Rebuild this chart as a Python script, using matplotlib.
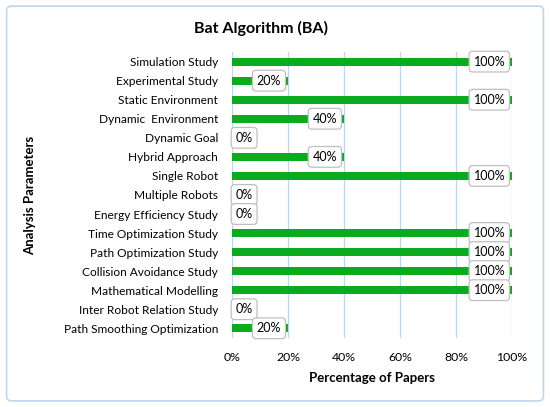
import matplotlib.pyplot as plt
from matplotlib.patches import FancyBboxPatch

# data (top to bottom)
categories = ['Simulation Study', 'Experimental Study', 'Static Environment',
              'Dynamic  Environment', 'Dynamic Goal', 'Hybrid Approach',
              'Single Robot', 'Multiple Robots', 'Energy Efficiency Study',
              'Time Optimization Study', 'Path Optimization Study',
              'Collision Avoidance Study', 'Mathematical Modelling',
              'Inter Robot Relation Study', 'Path Smoothing Optimization']
values = [100, 20, 100, 40, 0, 40, 100, 0, 0, 100, 100, 100, 100, 0, 20]
xticks = [0, 20, 40, 60, 80, 100]

plt.rcParams['font.family'] = ['Lato', 'DejaVu Sans']

fig = plt.figure(figsize=(5.5, 4.07), dpi=100)
ax = fig.add_axes([0.422, 0.17, 0.509, 0.702])

border = FancyBboxPatch((0.012, 0.015), 0.976, 0.97,
                        boxstyle='round,pad=0,rounding_size=0.01',
                        transform=fig.transFigure, fc='white',
                        ec='#BDD7EE', lw=1.2, zorder=-10)
fig.patches.append(border)

ypos = list(range(len(categories)))
ax.barh(ypos, values, height=0.42, color='#0AAB1E', zorder=3)
ax.set_ylim(len(categories) - 0.5, -0.5)
ax.set_xlim(0, 100)
ax.set_yticks(ypos)
ax.set_yticklabels(categories, fontsize=8.6)
ax.set_xticks(xticks)
ax.set_xticklabels([f'{t}%' for t in xticks], fontsize=8.8)
ax.tick_params(length=0, pad=10)
ax.tick_params(axis='y', pad=10)
for s in ax.spines.values():
    s.set_visible(False)
ax.grid(axis='x', color='#BDD7EE', lw=0.9, zorder=0)
ax.set_axisbelow(True)

box = dict(boxstyle='round,pad=0.35,rounding_size=0.3', fc='white',
           ec='#BFBFBF', lw=0.9)
for y, v in zip(ypos, values):
    if v < 10:
        ax.annotate(f'{v}%', (0, y), xytext=(2.5, 0), textcoords='offset points',
                    ha='left', va='center', fontsize=9, bbox=box, zorder=5)
    else:
        ax.annotate(f'{v}%', (v, y), xytext=(-5, 0), textcoords='offset points',
                    ha='right', va='center', fontsize=9, bbox=box, zorder=5)

ax.set_xlabel('Percentage of Papers', fontsize=9.5, fontweight='bold', labelpad=7)
fig.text(0.055, 0.52, 'Analysis Parameters', rotation=90, fontsize=9.5,
         fontweight='bold', ha='center', va='center')
fig.text(0.475, 0.93, 'Bat Algorithm (BA)', fontsize=11.5, fontweight='bold',
         ha='center', va='center')

fig.savefig('out.png', dpi=100)
